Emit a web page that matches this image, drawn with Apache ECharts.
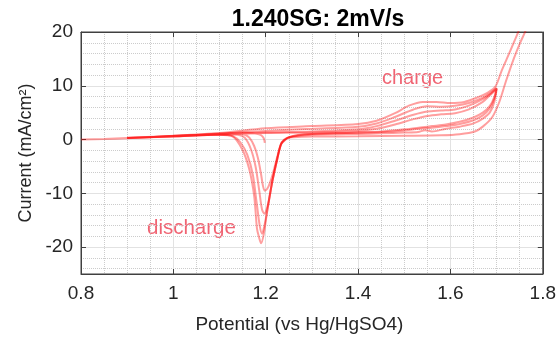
<!DOCTYPE html>
<html>
<head>
<meta charset="utf-8">
<script src="https://cdn.jsdelivr.net/npm/echarts@6/dist/echarts.min.js"></script>
<style>
  html, body { margin: 0; padding: 0; background: #ffffff; }
  #chart { width: 559px; height: 339px; }
</style>
</head>
<body>
<div id="chart"></div>
<script>
// Cyclic voltammograms, [potential (V vs Hg/HgSO4), current density (mA/cm2)]
// Cycle 1 starts at open circuit (~1.2 V), sweeps down to 0.8 V, then up to 1.7 V and back.
const cycle1 = [
  [1.198, -0.6], [1.196, 0.2], [1.19, 0.8], [1.18, 1.1], [1.16, 1.25], [1.12, 1.2],
  [1.05, 0.9], [1.0, 0.7], [0.95, 0.45], [0.9, 0.25], [0.85, 0.1], [0.8, 0.0],
  [0.85, 0.12], [0.9, 0.28], [1.0, 0.55], [1.1, 0.95], [1.2, 1.2], [1.3, 1.3],
  [1.4, 1.6], [1.44, 2.0], [1.48, 2.8], [1.52, 3.8], [1.55, 4.4], [1.58, 4.7],
  [1.61, 4.9], [1.64, 5.6], [1.67, 7.0], [1.685, 8.2], [1.7, 9.4],
  [1.695, 7.0], [1.685, 5.0], [1.67, 3.9], [1.65, 3.0], [1.62, 2.4], [1.59, 2.0],
  [1.56, 1.5], [1.545, 1.75], [1.53, 1.4], [1.5, 1.3], [1.45, 1.15], [1.4, 1.05],
  [1.35, 1.0], [1.3, 0.9], [1.27, 0.7], [1.25, 0.35], [1.24, -0.2], [1.233, -0.9],
  [1.225, -3.2], [1.214, -6.8], [1.205, -8.9], [1.198, -9.5], [1.194, -8.6],
  [1.19, -6.5], [1.183, -3.4], [1.175, -1.2], [1.165, 0.3], [1.155, 0.9],
  [1.14, 1.1], [1.1, 1.0], [1.0, 0.6], [0.9, 0.3]
];
const cycle2 = [
  [0.9, 0.3], [1.0, 0.6], [1.1, 1.0], [1.2, 1.3], [1.3, 1.5], [1.4, 1.9],
  [1.44, 2.5], [1.48, 3.5], [1.52, 4.6], [1.55, 5.2], [1.58, 5.4], [1.61, 5.6],
  [1.64, 6.3], [1.67, 7.5], [1.685, 8.4], [1.7, 9.5],
  [1.695, 7.6], [1.685, 5.8], [1.67, 4.5], [1.65, 3.6], [1.62, 2.9], [1.59, 2.5],
  [1.56, 2.2], [1.54, 2.1], [1.5, 1.7], [1.45, 1.4], [1.4, 1.25], [1.35, 1.15],
  [1.3, 1.05], [1.27, 0.8], [1.25, 0.4], [1.24, -0.2], [1.233, -0.9], [1.225, -3.6],
  [1.214, -7.9], [1.205, -12.0], [1.197, -13.8], [1.192, -13.0], [1.186, -9.5],
  [1.178, -5.0], [1.168, -1.8], [1.155, 0.3], [1.14, 0.9], [1.1, 1.0],
  [1.0, 0.65], [0.9, 0.3]
];
const cycle3 = [
  [0.9, 0.3], [1.0, 0.65], [1.1, 1.1], [1.2, 1.6], [1.3, 2.0], [1.4, 2.4],
  [1.44, 3.0], [1.48, 4.2], [1.52, 5.6], [1.55, 6.2], [1.58, 6.1], [1.61, 6.3],
  [1.64, 6.8], [1.67, 7.8], [1.685, 8.6], [1.7, 9.6],
  [1.695, 7.9], [1.685, 6.2], [1.67, 5.0], [1.65, 4.1], [1.62, 3.3], [1.59, 2.8],
  [1.56, 2.5], [1.54, 2.3], [1.5, 1.9], [1.45, 1.5], [1.4, 1.35], [1.35, 1.2],
  [1.3, 1.1], [1.27, 0.85], [1.25, 0.45], [1.24, -0.1], [1.233, -0.8], [1.225, -3.6],
  [1.214, -7.9], [1.203, -13.4], [1.196, -16.5], [1.192, -17.5], [1.187, -16.0],
  [1.18, -11.5], [1.172, -6.5], [1.16, -2.8], [1.145, -0.5], [1.13, 0.6],
  [1.1, 0.9], [1.0, 0.6], [0.9, 0.3]
];
// Cycle 4 runs past 1.75 V into oxygen evolution
const cycle4 = [
  [0.9, 0.35], [1.0, 0.7], [1.1, 1.2], [1.2, 2.1], [1.3, 2.5], [1.4, 2.9],
  [1.44, 3.5], [1.48, 4.9], [1.51, 6.3], [1.54, 7.0], [1.57, 7.0], [1.6, 6.8],
  [1.63, 7.0], [1.66, 7.9], [1.68, 8.7], [1.697, 9.8], [1.71, 12.6], [1.722, 15.0],
  [1.737, 18.0], [1.75, 20.7], [1.77, 26.0], [1.79, 33.0],
  [1.785, 29.5], [1.775, 23.5], [1.765, 20.7], [1.75, 17.8], [1.737, 15.0],
  [1.72, 10.8], [1.705, 6.8], [1.69, 4.1], [1.67, 2.4], [1.653, 1.5], [1.62, 1.0],
  [1.58, 0.8], [1.5, 0.7], [1.4, 0.6], [1.3, 0.55], [1.26, 0.45], [1.246, 0.3],
  [1.235, -0.5], [1.225, -3.6], [1.214, -7.9], [1.203, -13.4], [1.196, -17.5],
  [1.19, -19.3], [1.185, -18.0], [1.181, -16.5], [1.175, -10.5], [1.164, -5.4],
  [1.149, -1.8], [1.128, 0.6], [1.1, 0.9], [1.0, 0.6], [0.9, 0.3]
];

const cycles = [cycle1, cycle2, cycle3, cycle4];

const xTicks = { min: 0.8, max: 1.8, step: 0.2 };
const yRange = { min: -25, max: 20 };

const chartTitle = '1.240SG: 2mV/s';
const xName = 'Potential (vs Hg/HgSO4)';
const yName = 'Current (mA/cm²)';
const notes = ['charge', 'discharge'];

const FONT = 'Liberation Sans, Arial, Helvetica, sans-serif';
const AXIS_COLOR = '#404040';
const TEXT_COLOR = '#262626';
const LINE_COLOR = 'rgba(255, 0, 0, 0.38)';
const NOTE_COLOR = '#f06473';

const chart = echarts.init(document.getElementById('chart'), null, { renderer: 'canvas' });

// Top and right axes only close the box and carry inward ticks
const frameAxis = {
  axisLine: { show: true, onZero: false, lineStyle: { color: AXIS_COLOR, width: 1 } },
  axisTick: { show: true, inside: true, length: 5, lineStyle: { color: AXIS_COLOR } },
  axisLabel: { show: false },
  splitLine: { show: false }
};

const cycleSeries = cycles.map(function (c) {
  return {
    type: 'line',
    xAxisIndex: 0,
    yAxisIndex: 0,
    data: c,
    showSymbol: false,
    smooth: 0.3,
    clip: true,
    lineStyle: { color: LINE_COLOR, width: 2 },
    emphasis: { disabled: true }
  };
});
// empty series so the frame axes are laid out
cycleSeries.push({ type: 'line', xAxisIndex: 1, yAxisIndex: 1, data: [], showSymbol: false, silent: true });

chart.setOption({
  animation: false,
  backgroundColor: '#ffffff',
  title: {
    text: chartTitle,
    left: 313,
    top: 3,
    textAlign: 'center',
    textStyle: { fontFamily: FONT, fontSize: 23, fontWeight: 'bold', color: '#000000' }
  },
  grid: {
    left: 81, right: 14, top: 32, bottom: 63, containLabel: false,
    show: true, borderColor: AXIS_COLOR, borderWidth: 1, backgroundColor: 'transparent'
  },
  xAxis: [
    {
      type: 'value',
      position: 'bottom',
      min: xTicks.min,
      max: xTicks.max,
      interval: xTicks.step,
      name: xName,
      nameLocation: 'middle',
      nameGap: 41,
      nameTextStyle: { fontFamily: FONT, fontSize: 19, color: TEXT_COLOR, padding: [0, 25, 0, 0] },
      axisLine: { show: true, onZero: false, lineStyle: { color: AXIS_COLOR, width: 1 } },
      axisTick: { show: true, inside: true, length: 5, lineStyle: { color: AXIS_COLOR } },
      axisLabel: { fontFamily: FONT, fontSize: 19, color: TEXT_COLOR, margin: 10 },
      splitLine: { show: true, lineStyle: { color: '#e2e2e2', width: 1 } },
      minorTick: { show: false, splitNumber: 4 },
      minorSplitLine: { show: true, lineStyle: { color: '#cccccc', width: 1, type: 'dotted' } }
    },
    Object.assign({ type: 'value', position: 'top', min: xTicks.min, max: xTicks.max, interval: xTicks.step }, frameAxis)
  ],
  yAxis: [
    {
      type: 'value',
      position: 'left',
      min: yRange.min,
      max: yRange.max,
      name: yName,
      nameLocation: 'middle',
      nameGap: 45,
      nameTextStyle: { fontFamily: FONT, fontSize: 18, color: TEXT_COLOR },
      axisLine: { show: true, onZero: false, lineStyle: { color: AXIS_COLOR, width: 1 } },
      axisTick: { show: true, inside: true, length: 5, lineStyle: { color: AXIS_COLOR } },
      axisLabel: { fontFamily: FONT, fontSize: 19, color: TEXT_COLOR, margin: 8, showMinLabel: false, showMaxLabel: true },
      splitLine: { show: true, lineStyle: { color: '#e2e2e2', width: 1 } },
      minorTick: { show: false, splitNumber: 5 },
      minorSplitLine: { show: true, lineStyle: { color: '#cccccc', width: 1, type: 'dotted' } }
    },
    Object.assign({ type: 'value', position: 'right', min: yRange.min, max: yRange.max }, frameAxis)
  ],
  series: cycleSeries,
  graphic: [
    {
      type: 'text', x: 382, y: 78, silent: true,
      style: { text: notes[0], font: '20px ' + FONT, fill: NOTE_COLOR, verticalAlign: 'middle', align: 'left' }
    },
    {
      type: 'text', x: 147, y: 228, silent: true,
      style: { text: notes[1], font: '20.5px ' + FONT, fill: NOTE_COLOR, verticalAlign: 'middle', align: 'left' }
    }
  ]
});
</script>
</body>
</html>
